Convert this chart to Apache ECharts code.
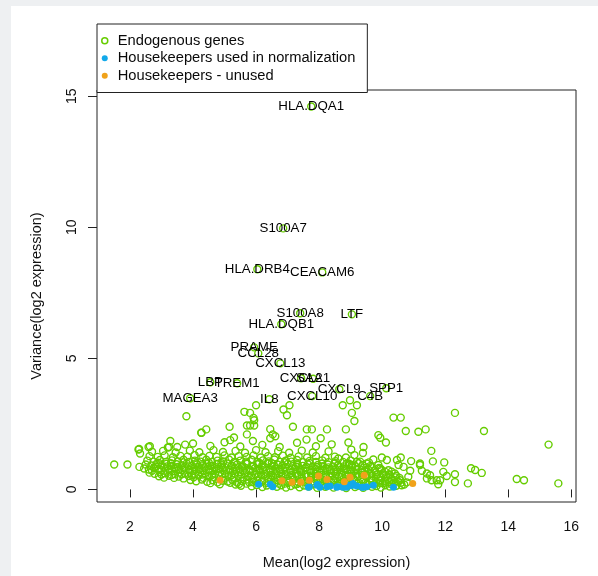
<!DOCTYPE html>
<html>
<head>
<meta charset="utf-8">
<script src="https://cdn.jsdelivr.net/npm/echarts@6/dist/echarts.min.js"></script>
<style>
html,body{margin:0;padding:0;background:#eef0f2;width:598px;height:576px;overflow:hidden;}
#panel{position:absolute;left:11px;top:6px;right:0;bottom:0;background:#fff;}
#c{position:absolute;left:0;top:0;width:598px;height:576px;}
</style>
</head>
<body>
<div id="panel"></div>
<div id="c"></div>
<script>
// ---- data ----
const xTicks = [2, 4, 6, 8, 10, 12, 14, 16];
const yTicks = [0, 5, 10, 15];

const geneNames = ['HLA.DQA1','S100A7','HLA.DRB4','CEACAM6','S100A8','LTF','HLA.DQB1','PRAME','CCL28','CXCL13','CXCL2','SAA1','LBP','TREM1','CXCL9','SPP1','C4B','MAGEA3','IL8','CXCL10'];
const geneMean = [7.75,6.86,6.04,8.10,7.40,9.04,6.80,5.94,6.07,6.77,7.43,7.81,4.55,5.40,8.64,10.13,9.62,3.91,6.42,7.78];
const geneVar  = [14.61,9.96,8.40,8.28,6.72,6.68,6.30,5.42,5.19,4.81,4.24,4.22,4.09,4.05,3.82,3.86,3.56,3.48,3.44,3.56];

// scattered endogenous genes (mean, variance)
const endoScattered = [
 [3.79,2.79],[5.63,2.96],[5.81,2.92],[6.00,3.21],[5.92,2.73],[5.94,2.64],[6.87,3.05],[6.98,2.83],[7.06,3.21],
 [8.75,3.21],[8.98,3.40],[9.20,3.21],[9.04,2.92],[9.12,2.61],[10.36,2.74],[10.59,2.74],[12.31,2.92],
 [4.26,2.16],[4.42,2.29],[5.16,2.39],[5.71,2.44],[5.81,2.44],[5.94,2.44],[5.71,2.10],[6.45,2.30],[6.53,2.10],[6.61,2.03],
 [7.17,2.39],[7.61,2.29],[7.77,2.29],[8.25,2.29],[5.18,1.88],[3.28,1.85],[3.75,1.71],[2.59,1.62],[2.27,1.52],
 [1.50,0.95],[1.92,0.95],[2.30,0.86],[2.32,1.37],[2.29,1.54],[2.63,1.65],[3.24,1.62],[4.27,2.16],
 [8.85,2.29],[10.75,2.23],[11.15,2.20],[11.38,2.29],[13.23,2.23],[9.88,2.07],[9.94,1.97],[10.12,1.79],[15.28,1.71],
 [8.93,1.79],[9.41,1.62],[9.39,1.39],[9.02,1.52],[9.12,1.31],[11.56,1.47],[11.61,1.07],[11.97,1.03],
 [10.92,1.08],[11.20,0.99],[10.59,1.22],[10.47,1.12],[12.31,0.58],[12.82,0.81],[12.95,0.74],[13.16,0.63],
 [14.27,0.40],[14.50,0.35],[15.59,0.23],[12.72,0.23],[12.31,0.28],[11.94,0.67],[12.05,0.51],[11.84,0.35],[11.78,0.20],
 [9.72,1.14],[9.99,1.22],[10.15,1.12],[10.52,0.93],[10.68,0.86],[10.89,0.71],[10.83,0.48],[11.20,0.93],[11.26,0.71],
 [11.42,0.61],[11.52,0.54],[11.42,0.42],[11.57,0.35],[11.73,0.35],[8.61,1.18],[8.88,0.99],[9.04,0.93],[9.20,1.05],
 [9.51,0.99],[9.67,0.86],[9.94,0.80],[10.10,0.67],[10.25,0.54],[10.41,0.46],[10.57,0.35],[10.31,0.35],[9.94,0.35],
 [10.10,0.23],[10.62,0.16]
];

// dense mass of endogenous genes (mean, variance)
const endoDense = [
 [5.35,0.19],[5.52,0.14],[5.7,0.22],[5.86,0.12],[6.02,0.17],[6.2,0.09],[6.34,0.15],[6.5,0.2],[6.66,0.1],[6.8,0.16],[6.95,0.07],[7.1,0.13],[7.24,0.19],[7.38,0.08],[7.52,0.15],[7.67,0.11],[7.8,0.2],[7.94,0.06],[8.08,0.14],[8.2,0.1],[8.33,0.18],[8.46,0.07],[8.6,0.15],[8.74,0.12],[8.86,0.05],[9.0,0.18],[9.14,0.09],[9.28,0.14],[9.4,0.06],[9.55,0.17],[9.68,0.1],[9.82,0.13],[9.96,0.07],[10.1,0.16],[10.24,0.11],[10.45,0.14],[10.7,0.19],
 [4.55,0.24],[4.85,0.2],[5.18,0.25],[5.46,0.21],[5.78,0.27],[6.1,0.23],[6.4,0.28],[6.72,0.22],[7.02,0.25],[7.3,0.21],[7.58,0.27],[7.86,0.23],[8.12,0.21],[8.4,0.26],[8.66,0.2],[8.94,0.24],[9.2,0.21],[9.47,0.26],[9.75,0.2],[10.02,0.24],[10.3,0.2],[10.6,0.25],
 [3.92,0.36],[4.1,0.31],[4.28,0.38],[4.45,0.29],[4.62,0.35],[4.78,0.27],[4.95,0.33],[5.1,0.3],[5.25,0.36],[5.4,0.26],[5.56,0.32],[5.72,0.38],[5.88,0.28],[6.04,0.34],[6.18,0.3],[6.33,0.24],[6.47,0.37],[6.62,0.29],[6.77,0.35],[6.91,0.22],[7.05,0.31],[7.2,0.38],[7.34,0.27],[7.48,0.33],[7.62,0.24],[7.76,0.3],[7.9,0.36],[8.04,0.26],[8.17,0.31],[8.3,0.22],[8.44,0.35],[8.58,0.28],[8.71,0.23],[8.85,0.33],[8.99,0.27],[9.12,0.36],[9.26,0.25],[9.4,0.31],[9.53,0.22],[9.67,0.34],[9.81,0.27],[9.94,0.24],[10.08,0.33],[10.22,0.28],[10.36,0.24],[10.5,0.3],[10.78,0.27],
 [2.92,0.5],[3.08,0.45],[3.24,0.52],[3.4,0.44],[3.55,0.49],[3.7,0.42],[3.86,0.51],[4.02,0.46],[4.18,0.53],[4.33,0.44],[4.5,0.5],[4.66,0.47],[4.82,0.54],[4.97,0.43],[5.13,0.49],[5.29,0.45],[5.44,0.52],[5.6,0.46],[5.76,0.5],[5.91,0.42],[6.07,0.48],[6.23,0.53],[6.38,0.44],[6.54,0.5],[6.69,0.45],[6.85,0.52],[7.0,0.41],[7.16,0.47],[7.31,0.52],[7.46,0.43],[7.6,0.49],[7.75,0.45],[7.9,0.5],[8.05,0.41],[8.2,0.47],[8.35,0.52],[8.5,0.43],[8.64,0.48],[8.79,0.42],[8.93,0.5],[9.08,0.44],[9.22,0.48],[9.37,0.4],[9.51,0.46],[9.66,0.42],[9.8,0.48],[9.95,0.43],[10.12,0.47],[10.3,0.41],[10.55,0.44],
 [3.0,0.57],[3.32,0.55],[3.64,0.58],[3.96,0.54],[4.3,0.57],[4.6,0.55],[4.92,0.58],[5.22,0.54],[5.52,0.57],[5.84,0.53],[6.16,0.57],[6.48,0.55],[6.8,0.58],[7.12,0.54],[7.44,0.57],[7.76,0.53],[8.08,0.56],[8.4,0.52],[8.72,0.55],[9.04,0.52],[9.36,0.55],[9.7,0.52],[10.05,0.54],[10.45,0.52],
 [2.62,0.64],[2.78,0.6],[2.94,0.67],[3.1,0.62],[3.26,0.68],[3.42,0.59],[3.58,0.65],[3.74,0.61],[3.9,0.68],[4.06,0.6],[4.22,0.66],[4.38,0.62],[4.54,0.69],[4.7,0.6],[4.86,0.65],[5.02,0.61],[5.18,0.68],[5.34,0.6],[5.5,0.66],[5.66,0.62],[5.82,0.69],[5.98,0.58],[6.14,0.64],[6.3,0.6],[6.46,0.67],[6.62,0.61],[6.78,0.66],[6.94,0.58],[7.1,0.64],[7.26,0.6],[7.42,0.66],[7.58,0.57],[7.74,0.63],[7.9,0.6],[8.06,0.65],[8.22,0.57],[8.38,0.62],[8.54,0.59],[8.7,0.64],[8.86,0.56],[9.02,0.61],[9.18,0.58],[9.34,0.63],[9.5,0.56],[9.66,0.6],[9.84,0.57],[10.02,0.62],[10.22,0.58],[10.4,0.61],
 [2.7,0.71],[3.0,0.73],[3.34,0.7],[3.66,0.74],[3.98,0.7],[4.3,0.72],[4.62,0.7],[4.94,0.74],[5.26,0.7],[5.58,0.72],[5.9,0.69],[6.22,0.73],[6.54,0.7],[6.86,0.72],[7.18,0.69],[7.5,0.71],[7.82,0.68],[8.14,0.71],[8.46,0.68],[8.78,0.7],[9.1,0.67],[9.44,0.69],[9.8,0.66],[10.3,0.68],
 [2.45,0.8],[2.6,0.76],[2.76,0.82],[2.92,0.78],[3.08,0.84],[3.24,0.76],[3.4,0.81],[3.56,0.77],[3.72,0.83],[3.88,0.75],[4.04,0.8],[4.2,0.77],[4.36,0.84],[4.52,0.76],[4.68,0.81],[4.84,0.78],[5.0,0.85],[5.16,0.76],[5.32,0.8],[5.48,0.77],[5.64,0.83],[5.8,0.75],[5.96,0.81],[6.12,0.78],[6.28,0.84],[6.44,0.75],[6.6,0.8],[6.76,0.77],[6.92,0.83],[7.08,0.74],[7.24,0.79],[7.4,0.76],[7.56,0.82],[7.72,0.74],[7.88,0.78],[8.04,0.75],[8.2,0.8],[8.36,0.73],[8.52,0.77],[8.68,0.74],[8.84,0.79],[9.0,0.72],[9.18,0.77],[9.36,0.73],[9.56,0.76],[9.76,0.72],[9.98,0.75],[10.2,0.73],
 [2.82,0.87],[3.18,0.88],[3.52,0.86],[3.86,0.88],[4.2,0.86],[4.54,0.89],[4.88,0.86],[5.22,0.88],[5.56,0.86],[5.9,0.89],[6.24,0.86],[6.58,0.88],[6.92,0.86],[7.26,0.87],[7.6,0.85],[7.94,0.86],[8.3,0.84],[8.66,0.85],[9.05,0.83],[9.5,0.84],[9.9,0.82],
 [2.5,0.95],[2.68,0.91],[2.84,0.97],[3.0,0.92],[3.16,0.98],[3.32,0.9],[3.48,0.96],[3.64,0.92],[3.8,0.99],[3.96,0.9],[4.12,0.95],[4.28,0.91],[4.44,0.98],[4.6,0.9],[4.76,0.96],[4.92,0.92],[5.08,0.99],[5.24,0.9],[5.4,0.95],[5.56,0.91],[5.72,0.98],[5.88,0.9],[6.04,0.96],[6.2,0.92],[6.36,0.99],[6.52,0.9],[6.68,0.95],[6.84,0.91],[7.0,0.97],[7.16,0.89],[7.32,0.94],[7.48,0.9],[7.64,0.96],[7.8,0.88],[7.96,0.93],[8.12,0.89],[8.28,0.95],[8.44,0.88],[8.6,0.92],[8.78,0.88],[8.96,0.93],[9.16,0.88],[9.38,0.92],[9.62,0.89],[9.88,0.93],
 [2.9,1.02],[3.3,1.0],[3.7,1.03],[4.1,1.0],[4.5,1.02],[4.9,1.0],[5.3,1.03],[5.7,1.0],[6.1,1.02],[6.5,1.0],[6.9,1.03],[7.3,0.99],[7.7,1.01],[8.1,0.99],[8.5,1.0],[8.95,0.98],[9.25,1.0],
 [2.55,1.1],[2.75,1.06],[2.95,1.12],[3.14,1.05],[3.33,1.11],[3.52,1.07],[3.7,1.13],[3.88,1.05],[4.06,1.1],[4.24,1.06],[4.42,1.13],[4.6,1.05],[4.78,1.1],[4.96,1.07],[5.14,1.14],[5.32,1.05],[5.5,1.1],[5.68,1.06],[5.86,1.13],[6.04,1.05],[6.22,1.11],[6.4,1.07],[6.58,1.14],[6.76,1.05],[6.94,1.1],[7.12,1.06],[7.3,1.12],[7.5,1.04],[7.7,1.09],[7.9,1.05],[8.1,1.11],[8.3,1.04],[8.52,1.08],[8.76,1.05],[9.0,1.1],[9.3,1.06],[9.58,1.03],
 [2.62,1.27],[2.88,1.24],[3.1,1.3],[3.36,1.23],[3.6,1.28],[3.82,1.25],[4.05,1.31],[4.3,1.23],[4.52,1.28],[4.75,1.24],[5.0,1.3],[5.22,1.22],[5.45,1.27],[5.7,1.24],[5.92,1.3],[6.15,1.22],[6.38,1.27],[6.6,1.23],[6.85,1.29],[7.1,1.21],[7.35,1.26],[7.62,1.22],[7.9,1.27],[8.2,1.21],[8.5,1.25],[8.85,1.22],
 [2.7,1.44],[3.05,1.47],[3.45,1.41],[3.9,1.48],[4.2,1.42],[4.65,1.5],[4.95,1.43],[5.35,1.47],[5.65,1.4],[6.0,1.5],[6.3,1.42],[6.7,1.46],[7.05,1.4],[7.45,1.48],[7.8,1.41],[8.3,1.45],
 [3.5,1.62],[4.0,1.75],[4.55,1.66],[5.0,1.8],[5.5,1.64],[5.9,1.85],[6.2,1.7],[6.75,1.62],[7.3,1.78],[7.9,1.65],[8.4,1.72],[3.2,1.6],[6.45,1.95],[7.6,1.9],[5.3,1.98],[8.05,1.95]
];

const hkUsed = [[6.08,0.20],[6.45,0.20],[6.53,0.10],[7.66,0.08],[7.69,0.10],[7.93,0.16],[7.95,0.19],[8.03,0.08],[8.25,0.10],[8.35,0.13],[8.56,0.08],[8.58,0.10],[8.72,0.10],[8.77,0.08],[8.88,0.08],[8.93,0.16],[9.04,0.15],[9.07,0.23],[9.20,0.13],[9.36,0.08],[9.41,0.08],[9.51,0.10],[9.72,0.16],[10.36,0.08]];
const hkUnused = [[4.86,0.35],[6.82,0.33],[7.14,0.27],[7.42,0.27],[7.69,0.35],[7.98,0.51],[8.25,0.38],[8.80,0.29],[8.98,0.46],[9.43,0.54],[10.97,0.23]];

const seriesNames = ['Endogenous genes', 'Housekeepers used in normalization', 'Housekeepers - unused'];
const seriesColors = ['#66CD00', '#12A9EA', '#F0A21A'];

// ---- chart ----
const FONT = '"Liberation Sans", Arial, sans-serif';
const endoData = endoDense.concat(endoScattered);
const labeled = geneNames.map((n, i) => ({
  name: n, value: [geneMean[i], geneVar[i]],
  label: { show: true }
}));

const chart = echarts.init(document.getElementById('c'), null, { renderer: 'canvas' });
chart.setOption({
  animation: false,
  textStyle: { fontFamily: FONT },
  grid: { left: 97, top: 90, right: 22, bottom: 74, show: true, borderColor: '#222', borderWidth: 1, backgroundColor: 'transparent' },
  legend: {
    left: 97, top: 24, orient: 'vertical',
    padding: [9, 12, 9, 4], itemGap: 2,
    itemWidth: 16, itemHeight: 6,
    backgroundColor: '#fff', borderColor: '#222', borderWidth: 1, borderRadius: 0,
    textStyle: { fontSize: 14.7, color: '#0a0a0a', fontFamily: FONT, lineHeight: 15.5 },
    data: [
      { name: seriesNames[0], icon: 'circle', itemStyle: { color: '#fff', borderColor: seriesColors[0], borderWidth: 1.5 } },
      { name: seriesNames[1], icon: 'circle', itemStyle: { color: seriesColors[1], borderWidth: 0 } },
      { name: seriesNames[2], icon: 'circle', itemStyle: { color: seriesColors[2], borderWidth: 0 } }
    ],
    selectedMode: false
  },
  xAxis: {
    type: 'value', min: 0.954, max: 16.15,
    name: 'Mean(log2 expression)', nameLocation: 'middle', nameGap: 53,
    nameTextStyle: { fontSize: 14.5, color: '#111', fontFamily: FONT },
    axisLine: { show: false },
    splitLine: { show: false },
    axisTick: { show: true, customValues: xTicks, length: 8, lineStyle: { color: '#222' } },
    axisLabel: { customValues: xTicks, margin: 18, fontSize: 14, color: '#111', fontFamily: FONT }
  },
  yAxis: {
    type: 'value', min: -0.48, max: 15.24,
    name: 'Variance(log2 expression)', nameLocation: 'middle', nameGap: 53,
    nameTextStyle: { fontSize: 14.5, color: '#111', fontFamily: FONT },
    axisLine: { show: false },
    splitLine: { show: false },
    axisTick: { show: true, customValues: yTicks, length: 9, lineStyle: { color: '#222' } },
    axisLabel: { customValues: yTicks, rotate: 90, margin: 18, fontSize: 14, color: '#111', fontFamily: FONT }
  },
  series: [
    {
      name: seriesNames[0], type: 'scatter', symbol: 'circle', symbolSize: 7,
      itemStyle: { color: 'rgba(0,0,0,0)', borderColor: seriesColors[0], borderWidth: 1.4, opacity: 1 },
      label: { show: false, position: 'inside', formatter: '{b}', fontSize: 13.3, color: '#000', fontFamily: FONT },
      emphasis: { disabled: true },
      data: endoData.concat(labeled)
    },
    {
      name: seriesNames[1], type: 'scatter', symbol: 'circle', symbolSize: 7,
      itemStyle: { color: seriesColors[1], borderWidth: 0, opacity: 1 },
      emphasis: { disabled: true },
      data: hkUsed
    },
    {
      name: seriesNames[2], type: 'scatter', symbol: 'circle', symbolSize: 7,
      itemStyle: { color: seriesColors[2], borderWidth: 0, opacity: 1 },
      emphasis: { disabled: true },
      data: hkUnused
    }
  ]
});
</script>
</body>
</html>
